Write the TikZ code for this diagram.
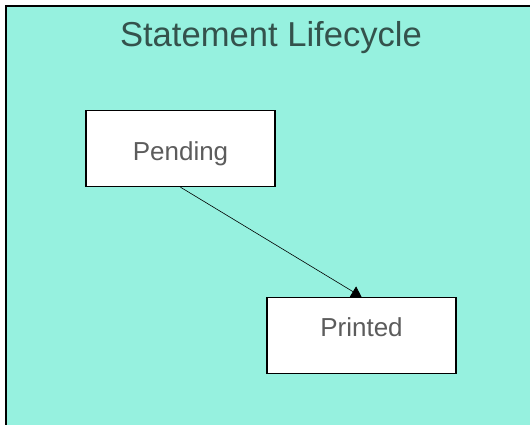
\documentclass[tikz,border=0pt]{standalone}
\usepackage{fontspec}
\setmainfont{Liberation Sans}
\usetikzlibrary{arrows.meta,positioning}
\definecolor{bgcol}{RGB}{150,241,223}
\definecolor{titlecol}{RGB}{52,82,76}
\definecolor{labelcol}{RGB}{92,92,92}

\begin{document}
\begin{tikzpicture}[x=1pt,y=-1pt,
  state/.style={draw=black,line width=1.4pt,fill=white,minimum width=189pt,minimum height=76pt,
    inner sep=0pt,text=labelcol,font=\fontsize{26}{30}\selectfont}]
  \useasboundingbox (0,0) rectangle (530,424);
  % frame runs off the page on the right and below
  \fill[bgcol] (6,6) rectangle (540,440);
  \draw[line width=1.6pt] (6,440) -- (6,6) -- (540,6);
  \node[text=titlecol,font=\fontsize{34.6}{40}\selectfont,anchor=base] (title) at (271,46) {Statement Lifecycle};
  \node[state,text height=23pt,text depth=0pt] (pending) at (180.5,148.5) {Pending};
  \node[state,text height=19pt,text depth=17pt] (printed) at (361.5,335.5) {Printed};
  \draw[-{Triangle[width=12pt,length=10pt]},line width=0.6pt] (pending.south) -- (printed.north);
\end{tikzpicture}
\end{document}
